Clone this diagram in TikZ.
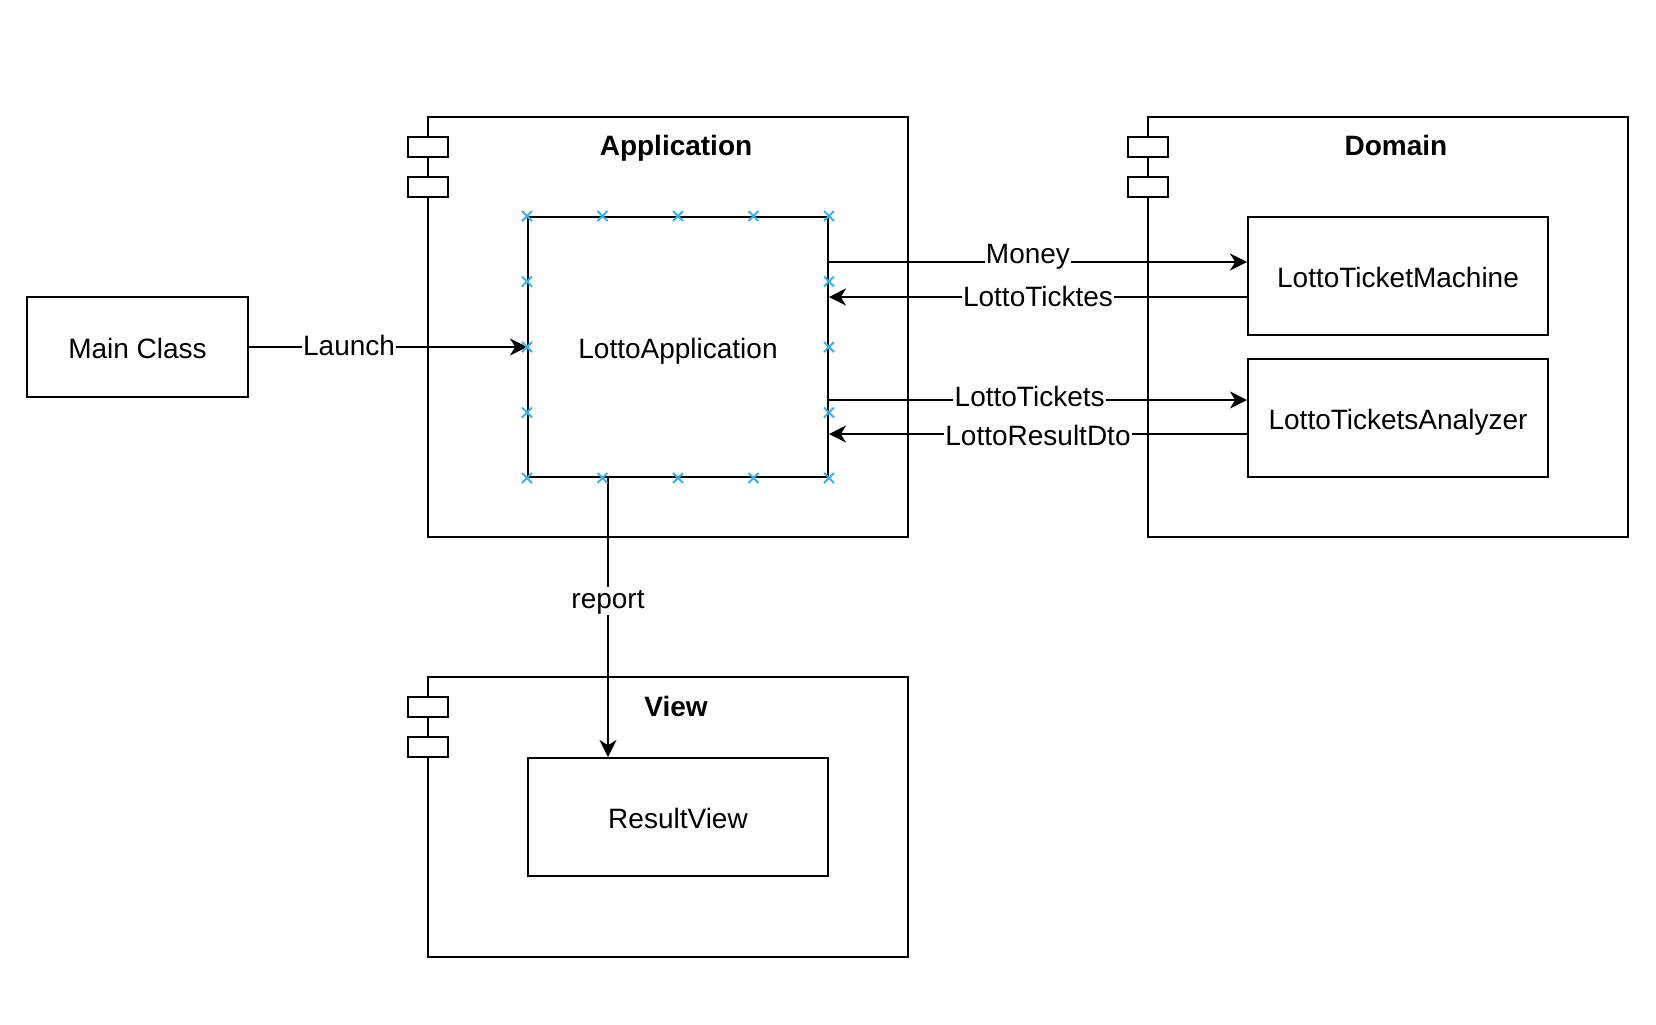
\documentclass[tikz,border=0pt]{standalone}
\usepackage{fontspec}
\setmainfont{Liberation Sans}
\usetikzlibrary{arrows.meta,calc}
\definecolor{hintblue}{RGB}{51,178,239}
\begin{document}
\begin{tikzpicture}[x=0.5pt,y=-0.5pt,
  font=\fontsize{14pt}{16pt}\selectfont,
  line width=1pt,
  pkg/.style={draw, rectangle, anchor=north west, inner sep=0pt},
  tab/.style={draw, fill=white, rectangle, anchor=north west, inner sep=0pt,
              minimum width=20pt, minimum height=10pt},
  comp/.style={draw, fill=white, rectangle, anchor=north west, inner sep=0pt,
               text height=13pt, text depth=1.5pt},
  title/.style={font=\fontsize{14pt}{16pt}\selectfont\bfseries, anchor=base},
  arr/.style={-{Stealth[length=8.5pt,width=8.5pt,inset=2.6pt]}},
  lbl/.style={fill=white, inner sep=0.6pt, text height=10pt, text depth=3pt},
  hint/.style={draw=hintblue, line width=0.9pt}]
\useasboundingbox (0,0) rectangle (1656,1024);

% packages with their two tabs on the left border
\node[pkg, minimum width=240pt, minimum height=210pt] (apppkg) at (427,116) {};
\node[tab] (apptab1) at (407,136) {};
\node[tab] (apptab2) at (407,176) {};
\node[title] (apptitle) at (676,155) {Application};

\node[pkg, minimum width=240pt, minimum height=210pt] (dompkg) at (1147,116) {};
\node[tab] (domtab1) at (1127,136) {};
\node[tab] (domtab2) at (1127,176) {};
\node[title] (domtitle) at (1396,155) {Domain};

\node[pkg, minimum width=240pt, minimum height=140pt] (viewpkg) at (427,676) {};
\node[tab] (viewtab1) at (407,696) {};
\node[tab] (viewtab2) at (407,736) {};
\node[title] (viewtitle) at (676,716) {View};

% components
\node[comp, minimum width=110.5pt, minimum height=50pt] (mc) at (26,296) {Main Class};
\node[comp, minimum width=150pt, minimum height=130pt] (la) at (527,216) {LottoApplication};
\node[comp, minimum width=150pt, minimum height=59pt] (ltm) at (1247,216) {LottoTicketMachine};
\node[comp, minimum width=150pt, minimum height=59pt] (lta) at (1247,358) {LottoTicketsAnalyzer};
\node[comp, minimum width=150pt, minimum height=59pt] (rv) at (527,757) {ResultView};

% connectors
\draw[arr] (mc.east) -- node[lbl, pos=0.36, yshift=-0.75pt] {Launch} (la.west);
\draw[arr] ([yshift=42.5pt]la.east) -- node[lbl, pos=0.476, yshift=2.75pt] {Money} ([yshift=7pt]ltm.west);
\draw[arr] ([yshift=-10.5pt]ltm.west) -- node[lbl, pos=0.5, yshift=-1pt] {LottoTicktes} ([yshift=25pt]la.east);
\draw[arr] ([yshift=-26.5pt]la.east) -- node[lbl, pos=0.48, yshift=0.5pt] {LottoTickets} ([yshift=9pt]lta.west);
\draw[arr] ([yshift=-8pt]lta.west) -- node[lbl, pos=0.5, yshift=-2.25pt] {LottoResultDto} ([yshift=-43.5pt]la.east);
\draw[arr] ([xshift=-35pt]la.south) -- node[lbl, pos=0.441] {report} ([xshift=-35pt]rv.north);

% connection hints along the border of LottoApplication
\foreach \f in {0,0.25,0.5,0.75,1} {
  \foreach \s/\e in {north west/north east, south west/south east} {
    \draw[hint] ($(la.\s)!\f!(la.\e)$) +(-5,-5) -- +(5,5)
                ($(la.\s)!\f!(la.\e)$) +(-5,5) -- +(5,-5);
  }
}
\foreach \f in {0.25,0.5,0.75} {
  \foreach \s/\e in {north west/south west, north east/south east} {
    \draw[hint] ($(la.\s)!\f!(la.\e)$) +(-5,-5) -- +(5,5)
                ($(la.\s)!\f!(la.\e)$) +(-5,5) -- +(5,-5);
  }
}
\end{tikzpicture}
\end{document}
